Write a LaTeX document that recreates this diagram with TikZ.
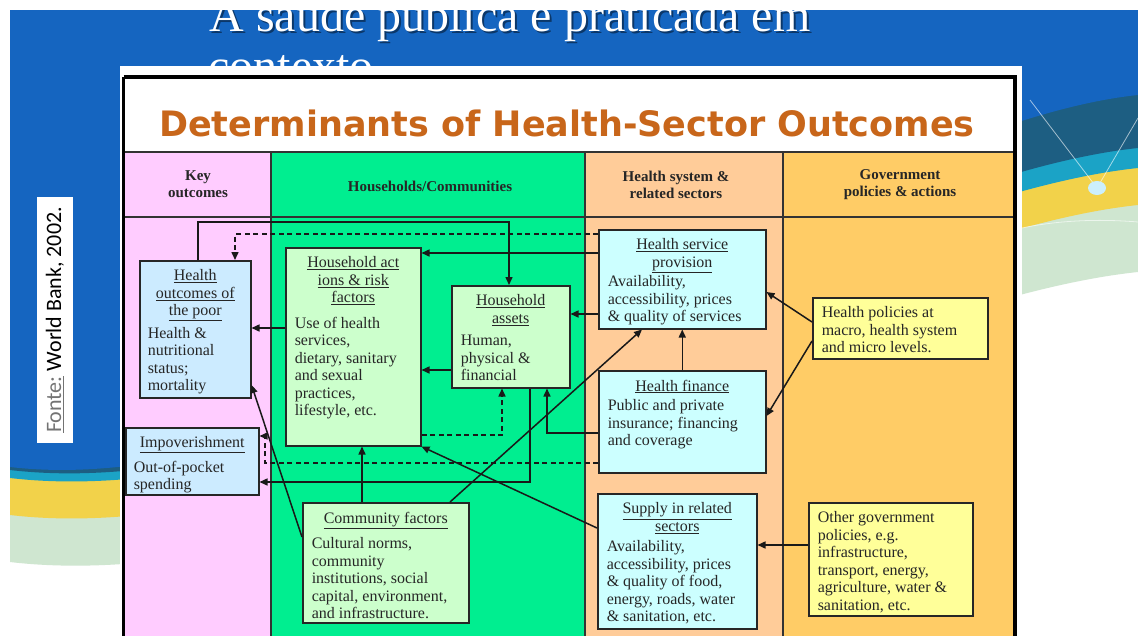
\documentclass[tikz,border=0pt]{standalone}
\usepackage{fontspec}
\setmainfont{Liberation Serif}
\newfontfamily\titlefont{DejaVu Sans}
\newfontfamily\fontefont{Carlito}
\usetikzlibrary{arrows.meta}
\definecolor{slideblue}{HTML}{1565C0}
\definecolor{tealband}{HTML}{1D5E82}
\definecolor{cyanband}{HTML}{1BA3C6}
\definecolor{yellowband}{HTML}{F2D24A}
\definecolor{greenband}{HTML}{CFE6D0}
\definecolor{colpink}{HTML}{FFCCFF}
\definecolor{colgreen}{HTML}{00EE90}
\definecolor{colpeach}{HTML}{FFCC99}
\definecolor{colorange}{HTML}{FFCC66}
\definecolor{boxblue}{HTML}{CCEBFF}
\definecolor{boxcyan}{HTML}{CCFFFF}
\definecolor{boxgreen}{HTML}{CCFFCC}
\definecolor{boxyellow}{HTML}{FFFF99}
\definecolor{titlebrown}{HTML}{C8661A}
\newcommand\bxc[5]{\parbox[c][#2][t]{#1}{\vspace*{6pt}\centering #3\par\vspace{#4}\raggedright #5\par}}
\newcommand\bxp[3]{\parbox[c][#2][t]{#1}{\vspace*{6pt}\raggedright #3\par}}
\begin{document}
\begin{tikzpicture}[x=1pt,y=-1pt,
  box/.style={draw=black!85, line width=1.5pt, inner sep=0pt, anchor=north west, font=\fontsize{16}{17.5}\selectfont, text=black!85},
  conn/.style={line width=1.5pt, draw=black!90, -{Triangle[length=8pt,width=7pt]}},
  dconn/.style={conn, dash pattern=on 5pt off 3.5pt},
  hdr/.style={font=\fontsize{15}{17}\selectfont\bfseries, align=center, text=black!85},
  gridline/.style={line width=1.3pt, draw=black!80}]
\useasboundingbox (0,0) rectangle (1138,635);
\fill[white] (0,0) rectangle (1138,635);
% slide background
\begin{scope}
\clip (10,10) rectangle (1138,635);
\fill[greenband] (10,10) -- (1138,10) -- (1138,272) .. controls (850,302) and (350,602) .. (10,562) -- cycle;
\fill[yellowband] (10,10) -- (1138,10) -- (1138,205) .. controls (850,235) and (350,555) .. (10,515) -- cycle;
\fill[cyanband] (10,10) -- (1138,10) -- (1138,168) .. controls (850,198) and (350,518) .. (10,478) -- cycle;
\fill[tealband] (10,10) -- (1138,10) -- (1138,148) .. controls (850,178) and (350,510) .. (10,470) -- cycle;
\fill[slideblue] (10,10) -- (1138,10) -- (1138,95) .. controls (850,125) and (350,507) .. (10,467) -- cycle;
\draw[white, opacity=.6, line width=.8pt] (1030,100) -- (1097,188) -- (1138,118);
\draw[white, opacity=.6, line width=.8pt] (1138,222) .. controls (1090,218) and (1050,222) .. (1022,228);
\fill[white!80!cyan] (1097,188) ellipse (9 and 7);
\end{scope}
% slide title (cut by the top edge and by the card, as in the slide)
\begin{scope}
\clip (10,10) rectangle (1138,120);
\node[font=\fontsize{48}{52}\selectfont, text=black, opacity=.45, anchor=base] (st1s) at (512,33) {A saúde pública é praticada em};
\node[font=\fontsize{48}{52}\selectfont, text=white, anchor=base] (st1) at (510,31) {A saúde pública é praticada em};
\node[font=\fontsize{48}{52}\selectfont, text=white, anchor=base west] (st2) at (205,82) {contexto};
\end{scope}
% source label
\node[fill=white, rotate=90, minimum width=246pt, minimum height=36pt, inner sep=0pt, font=\fontefont\fontsize{22}{24}\selectfont] (fonte) at (55,320) {\textcolor{black!55}{\underline{Fonte:}} World Bank, 2002.};
% card
\fill[white] (120,66) rectangle (1022,640);
% columns
\fill[colpink] (125,152) rectangle (271,640);
\fill[colgreen] (271,152) rectangle (585,640);
\fill[colpeach] (585,152) rectangle (783,640);
\fill[colorange] (783,152) rectangle (1014,640);
\draw[gridline] (125,152) -- (1014,152);
\draw[gridline] (125,217) -- (1014,217);
\draw[gridline] (271,152) -- (271,640);
\draw[gridline] (585,152) -- (585,640);
\draw[gridline] (783,152) -- (783,640);
\draw[line width=3.5pt, black] (123.5,77) -- (1015,77) -- (1015,645);
\draw[line width=3.5pt, black] (123.5,77) -- (123.5,645);
% title
\node[font=\titlefont\bfseries\fontsize{35}{40}\selectfont, text=titlebrown, anchor=base] (title) at (567,136) {Determinants of Health-Sector Outcomes};
% headers
\node[hdr] (hkey) at (198,184) {Key\\outcomes};
\node[hdr] (hhh) at (430,186) {Households/Communities};
\node[hdr] (hhs) at (676,185) {Health system \&\\related sectors};
\node[hdr] (hgov) at (900,185) {Government\\policies \& actions};
% boxes
\node[box, fill=boxblue, minimum width=111pt, minimum height=137pt] (out) at (139,260)
 {\bxc{95pt}{131pt}{\underline{Health}\\\underline{outcomes of}\\\underline{the poor}}{5pt}{Health \&\\nutritional\\status;\\mortality}};
\node[box, fill=boxblue, minimum width=133pt, minimum height=67pt] (imp) at (125,427)
 {\bxc{117pt}{61pt}{\underline{Impoverishment}}{7pt}{Out-of-pocket\\spending}};
\node[box, fill=boxgreen, minimum width=135pt, minimum height=198pt] (act) at (285,247)
 {\bxc{117pt}{192pt}{\underline{Household act}\\\underline{ions \& risk}\\\underline{factors}}{8pt}{Use of health\\services,\\dietary, sanitary\\and sexual\\practices,\\lifestyle, etc.}};
\node[box, fill=boxgreen, minimum width=118pt, minimum height=102pt] (ast) at (451,285)
 {\bxc{100pt}{96pt}{\underline{Household}\\\underline{assets}}{5pt}{Human,\\physical \&\\financial}};
\node[box, fill=boxgreen, minimum width=166pt, minimum height=120pt] (com) at (302,502)
 {\bxc{148pt}{114pt}{\underline{Community factors}}{8pt}{Cultural norms,\\community\\institutions, social\\capital, environment,\\and infrastructure.}};
\node[box, fill=boxcyan, minimum width=167pt, minimum height=99pt] (hsp) at (598,229)
 {\bxc{149pt}{93pt}{\underline{Health service}\\\underline{provision}}{2pt}{Availability,\\accessibility, prices\\\& quality of services}};
\node[box, fill=boxcyan, minimum width=167pt, minimum height=102pt] (fin) at (598,370)
 {\bxc{149pt}{96pt}{\underline{Health finance}}{2pt}{Public and private\\insurance; financing\\and coverage}};
\node[box, fill=boxcyan, minimum width=159pt, minimum height=135pt] (sup) at (597,493)
 {\bxc{141pt}{129pt}{\underline{Supply in related}\\\underline{sectors}}{3pt}{Availability,\\accessibility, prices\\\& quality of food,\\energy, roads, water\\\& sanitation, etc.}};
\node[box, fill=boxyellow, minimum width=175pt, minimum height=61pt] (pol) at (812,297)
 {\bxp{157pt}{55pt}{Health policies at\\macro, health system\\and micro levels.}};
\node[box, fill=boxyellow, minimum width=164pt, minimum height=113pt] (oth) at (808,502)
 {\bxp{146pt}{107pt}{Other government\\policies, e.g.\\infrastructure,\\transport, energy,\\agriculture, water \&\\sanitation, etc.}};
% connectors
\draw[conn] (198,0 |- out.north) |- (509,222) -- (509,0 |- ast.north);
\draw[dconn] (hsp.west |- 0,234) -| (235,0 |- out.north);
\draw[conn] (hsp.west |- 0,253) -- (act.east |- 0,253);
\draw[conn] (hsp.west |- 0,314) -- (ast.east |- 0,314);
\draw[conn] (act.west |- 0,328) -- (out.east |- 0,328);
\draw[conn] (ast.west |- 0,370) -- (act.east |- 0,370);
\draw[conn] (fin.north) -- (hsp.south);
\draw[conn] (pol.west |- 0,322) -- (hsp.east |- 0,292);
\draw[conn] (pol.west |- 0,341) -- (fin.east |- 0,416);
\draw[conn] (oth.west |- 0,545) -- (sup.east |- 0,545);
\draw[conn] (450,0 |- com.north) -- (642,0 |- hsp.south);
\draw[conn] (362,0 |- com.north) -- (362,0 |- act.south);
\draw[conn] (com.west |- 0,537) -- (out.east |- 0,385);
\draw[conn] (sup.west |- 0,528) -- (act.south east);
\draw[conn] (530,0 |- ast.south) |- (imp.east |- 0,482);
\draw[conn] (fin.west |- 0,433) -| (547,0 |- ast.south);
\draw[dconn] (fin.west |- 0,463) -| (265,436) -- (imp.east |- 0,436);
\draw[dconn] (act.east |- 0,435) -| (502,0 |- ast.south);
\end{tikzpicture}
\end{document}
